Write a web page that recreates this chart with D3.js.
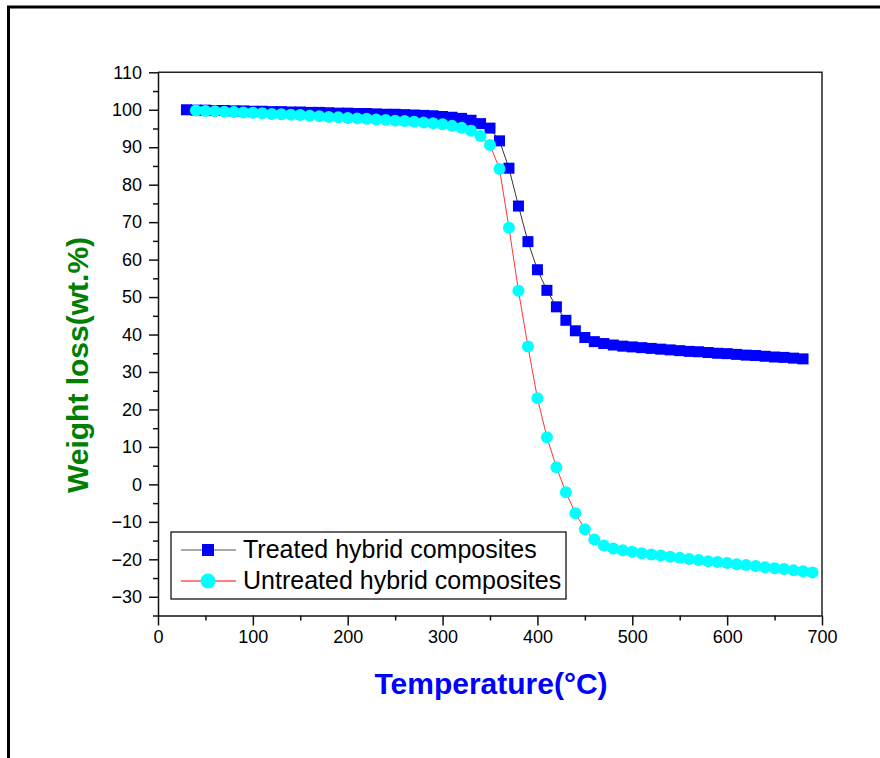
<!DOCTYPE html>
<html lang="en">
<head>
<meta charset="UTF-8">
<title>TGA</title>
<script src="https://cdn.jsdelivr.net/npm/d3@7"></script>
<style>
  body { margin: 0; background: #fff; }
  svg text { font-family: "Liberation Sans", Arial, sans-serif; }
</style>
</head>
<body>
<div id="main"></div>
<script>
// data
var treatedTemp = d3.range(30, 690, 10)
var treatedVals = [100.0, 99.9, 99.9, 99.8, 99.8, 99.7, 99.7, 99.6, 99.6, 99.5,
  99.5, 99.4, 99.4, 99.3, 99.3, 99.2, 99.1, 99.1, 99.0, 99.0,
  98.9, 98.8, 98.8, 98.7, 98.6, 98.5, 98.4, 98.2, 98.0, 97.7,
  97.2, 96.3, 95.1, 91.7, 84.4, 74.3, 64.8, 57.3, 51.8, 47.4,
  43.8, 41.0, 39.2, 38.1, 37.6, 37.2, 36.9, 36.7, 36.5, 36.3,
  36.1, 35.9, 35.7, 35.5, 35.4, 35.2, 35.0, 34.9, 34.7, 34.5,
  34.4, 34.2, 34.0, 33.9, 33.7, 33.5]

var untreatedTemp = d3.range(40, 700, 10)
var untreatedVals = [99.8, 99.7, 99.6, 99.5, 99.4, 99.3, 99.2, 99.1, 98.9, 98.8,
  98.7, 98.6, 98.4, 98.3, 98.1, 98.0, 97.8, 97.7, 97.6, 97.4,
  97.3, 97.1, 97.0, 96.8, 96.6, 96.4, 96.1, 95.7, 95.2, 94.4,
  93.0, 90.6, 84.2, 68.5, 51.7, 36.8, 23.0, 12.6, 4.6, -2.1,
  -7.7, -12.0, -14.7, -16.3, -17.1, -17.6, -18.0, -18.4, -18.7, -19.0,
  -19.3, -19.6, -19.9, -20.2, -20.5, -20.7, -21.0, -21.3, -21.5, -21.8,
  -22.1, -22.4, -22.6, -22.9, -23.2, -23.5]

var xTicks = [0, 100, 200, 300, 400, 500, 600, 700]
var yTicks = [-30, -20, -10, 0, 10, 20, 30, 40, 50, 60, 70, 80, 90, 100, 110]
var seriesNames = ['Treated hybrid composites', 'Untreated hybrid composites']

var width = 880
var height = 758
var plot = {left: 158, right: 822, top: 72.3, bottom: 615.5}

var svg = d3.select('#main').append('svg')
    .attr('width', width)
    .attr('height', height)

// outer frame (only top and left visible)
svg.append('path')
    .attr('d', `M8.5,${height} V7 H${width}`)
    .attr('fill', 'none')
    .attr('stroke', '#000')
    .attr('stroke-width', 3)

var x = d3.scaleLinear().domain([0, 700]).range([plot.left, plot.right])
var y = d3.scaleLinear().domain([-35, 110]).range([plot.bottom, plot.top])

// top and right border of plot
svg.append('path')
    .attr('d', `M${plot.left},${plot.top} H${plot.right} V${plot.bottom}`)
    .attr('fill', 'none')
    .attr('stroke', '#222')
    .attr('stroke-width', 1.5)

// minor ticks
svg.append('g')
    .attr('transform', `translate(0,${plot.bottom})`)
    .call(d3.axisBottom(x).tickValues(d3.range(50, 700, 100)).tickSize(5).tickFormat(''))
    .call(g => g.select('.domain').remove())
svg.append('g')
    .attr('transform', `translate(${plot.left},0)`)
    .call(d3.axisLeft(y).tickValues(d3.range(-35, 110, 10)).tickSize(5).tickFormat(''))
    .call(g => g.select('.domain').remove())

// major axes
var xAxis = svg.append('g')
    .attr('transform', `translate(0,${plot.bottom})`)
    .call(d3.axisBottom(x).tickValues(xTicks).tickSize(10).tickPadding(5).tickSizeOuter(0))
var yAxis = svg.append('g')
    .attr('transform', `translate(${plot.left},0)`)
    .call(d3.axisLeft(y).tickValues(yTicks).tickSize(9).tickPadding(7).tickSizeOuter(0))

svg.selectAll('.tick line').attr('stroke', '#111').attr('stroke-width', 1.5)
svg.selectAll('.domain').attr('stroke', '#111').attr('stroke-width', 1.5)
svg.selectAll('.tick text')
    .attr('font-family', '"Liberation Sans", Arial, sans-serif')
    .attr('font-size', 18)
    .attr('fill', '#000')

// axis titles
svg.append('text')
    .attr('x', 491).attr('y', 694)
    .attr('text-anchor', 'middle')
    .attr('font-size', 30).attr('font-weight', 'bold')
    .attr('fill', '#0000ff')
    .text('Temperature(°C)')

svg.append('text')
    .attr('transform', 'translate(88,365) rotate(-90)')
    .attr('text-anchor', 'middle')
    .attr('font-size', 30).attr('font-weight', 'bold')
    .attr('fill', '#008000')
    .text('Weight loss(wt.%)')

var treated = treatedTemp.map((t, i) => ({t: t, v: treatedVals[i]}))
var untreated = untreatedTemp.map((t, i) => ({t: t, v: untreatedVals[i]}))

var line = d3.line().x(d => x(d.t)).y(d => y(d.v))

// treated: black line + blue squares
svg.append('path')
    .attr('d', line(treated))
    .attr('fill', 'none')
    .attr('stroke', '#000')
    .attr('stroke-width', 0.8)
svg.append('g').selectAll('rect')
    .data(treated)
    .enter()
    .append('rect')
    .attr('x', d => x(d.t) - 5.5)
    .attr('y', d => y(d.v) - 5.5)
    .attr('width', 11)
    .attr('height', 11)
    .attr('fill', '#0000ff')

// untreated: red line + cyan circles
svg.append('path')
    .attr('d', line(untreated))
    .attr('fill', 'none')
    .attr('stroke', '#ff0000')
    .attr('stroke-width', 0.8)
svg.append('g').selectAll('circle')
    .data(untreated)
    .enter()
    .append('circle')
    .attr('cx', d => x(d.t))
    .attr('cy', d => y(d.v))
    .attr('r', 6)
    .attr('fill', '#00ffff')

// legend
var legend = svg.append('g')
legend.append('rect')
    .attr('x', 171).attr('y', 532)
    .attr('width', 395).attr('height', 67)
    .attr('fill', '#fff')
    .attr('stroke', '#000')
    .attr('stroke-width', 1.2)

var rows = [550, 581]
legend.append('line')
    .attr('x1', 181).attr('x2', 236).attr('y1', rows[0]).attr('y2', rows[0])
    .attr('stroke', '#555').attr('stroke-width', 1)
legend.append('rect')
    .attr('x', 202).attr('y', rows[0] - 6).attr('width', 12).attr('height', 12)
    .attr('fill', '#0000ff')
legend.append('line')
    .attr('x1', 181).attr('x2', 236).attr('y1', rows[1]).attr('y2', rows[1])
    .attr('stroke', '#ff0000').attr('stroke-width', 1)
legend.append('circle')
    .attr('cx', 208).attr('cy', rows[1]).attr('r', 7.5)
    .attr('fill', '#00ffff')

legend.selectAll('text.lbl')
    .data(seriesNames)
    .enter()
    .append('text')
    .attr('class', 'lbl')
    .attr('x', 243)
    .attr('y', (d, i) => rows[i] + 8)
    .attr('font-size', 25)
    .attr('fill', '#000')
    .text(d => d)
</script>
</body>
</html>
